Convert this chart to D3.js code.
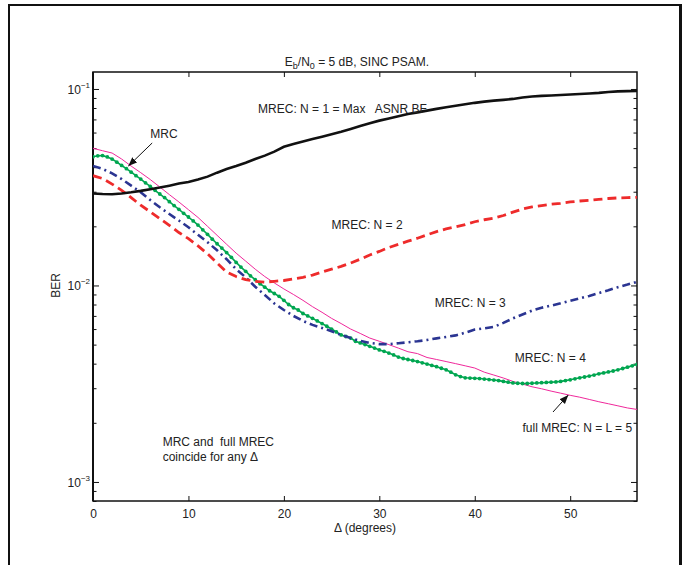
<!DOCTYPE html>
<html>
<head>
<meta charset="utf-8">
<script src="https://cdn.jsdelivr.net/npm/d3@7"></script>
<style>
  html, body { margin: 0; padding: 0; background: #fff; }
  svg { display: block; font-family: "Liberation Sans", Arial, Helvetica, sans-serif; }
  .note { white-space: pre; }
</style>
</head>
<body>
<svg id="chart" width="688" height="565"></svg>
<script>
// Data
const deltaDeg = d3.range(0, 58, 1);          // 0..57 degrees, 1 deg step
const deltaFine = d3.range(0, 57.01, 0.5);    // 0..57 degrees, 0.5 deg step (N = 4 markers)

const berN1 = [0.0294, 0.0292, 0.0291, 0.0294, 0.0298, 0.0303, 0.0309, 0.0315, 0.0322, 0.0330,
  0.0336, 0.0346, 0.0358, 0.0375, 0.0391, 0.0405, 0.0421, 0.0440, 0.0458, 0.0480,
  0.0508, 0.0525, 0.0540, 0.0556, 0.0572, 0.0589, 0.0606, 0.0626, 0.0648, 0.0670,
  0.0690, 0.0708, 0.0727, 0.0745, 0.0760, 0.0776, 0.0792, 0.0808, 0.0822, 0.0836,
  0.0850, 0.0862, 0.0872, 0.0880, 0.0890, 0.0905, 0.0915, 0.0922, 0.0927, 0.0932,
  0.0937, 0.0942, 0.0948, 0.0955, 0.0965, 0.0972, 0.0975, 0.0977];

const berN2 = [0.0362, 0.0350, 0.0328, 0.0305, 0.0280, 0.0256, 0.0237, 0.0219, 0.0202, 0.0186,
  0.0173, 0.0159, 0.0145, 0.0130, 0.0117, 0.0111, 0.0107, 0.0105, 0.0104, 0.0105,
  0.0106, 0.0108, 0.0110, 0.0113, 0.0117, 0.0121, 0.0125, 0.0130, 0.0136, 0.0143,
  0.0149, 0.0156, 0.0162, 0.0168, 0.0174, 0.0181, 0.0188, 0.0194, 0.0199, 0.0204,
  0.0211, 0.0216, 0.0220, 0.0227, 0.0236, 0.0245, 0.0251, 0.0255, 0.0259, 0.0262,
  0.0266, 0.0269, 0.0271, 0.0274, 0.0277, 0.0279, 0.0280, 0.0281];

const berN3 = [0.0406, 0.0392, 0.0372, 0.0348, 0.0322, 0.0298, 0.0272, 0.0250, 0.0231, 0.0214,
  0.0198, 0.0181, 0.0166, 0.0151, 0.0136, 0.0121, 0.0110, 0.00985, 0.00895, 0.00810,
  0.00750, 0.00700, 0.00660, 0.00630, 0.00608, 0.00585, 0.00560, 0.00540, 0.00522, 0.00510,
  0.00503, 0.00503, 0.00508, 0.00514, 0.00520, 0.00528, 0.00538, 0.00547, 0.00557, 0.00575,
  0.00596, 0.00605, 0.00616, 0.00645, 0.00680, 0.00712, 0.00745, 0.00770, 0.00790, 0.00811,
  0.00835, 0.00860, 0.00885, 0.00915, 0.00945, 0.00980, 0.0101, 0.01044];

const berN4 = [0.0452, 0.0457, 0.0458, 0.0451, 0.0440, 0.0424, 0.0408, 0.0393, 0.0377, 0.0362,
  0.0348, 0.0333, 0.0319, 0.0305, 0.0292, 0.0280, 0.0267, 0.0255, 0.0244, 0.0233,
  0.0223, 0.0213, 0.0203, 0.0192, 0.0182, 0.0172, 0.0163, 0.0155, 0.0147, 0.0139,
  0.0131, 0.0124, 0.0118, 0.0112, 0.0107, 0.0102, 0.0098, 0.0094, 0.0091, 0.0088,
  0.0084, 0.0080, 0.0077, 0.0075, 0.0072, 0.0070, 0.0068, 0.0066, 0.0064, 0.0062,
  0.0060, 0.0058, 0.0056, 0.0055, 0.0054, 0.0052, 0.0051, 0.0050, 0.0049, 0.0048,
  0.0047, 0.00462, 0.00453, 0.00443, 0.00432, 0.00425, 0.00420, 0.00415, 0.00410, 0.00404,
  0.00398, 0.00392, 0.00386, 0.00379, 0.00372, 0.00362, 0.00351, 0.00344, 0.00339, 0.00338,
  0.00337, 0.00336, 0.00334, 0.00332, 0.00330, 0.00328, 0.00325, 0.00322, 0.00319, 0.00318,
  0.00317, 0.00317, 0.00318, 0.00319, 0.00320, 0.00321, 0.00322, 0.00323, 0.00325, 0.00328,
  0.00331, 0.00335, 0.00339, 0.00342, 0.00346, 0.00350, 0.00355, 0.00359, 0.00363, 0.00367,
  0.00372, 0.00378, 0.00384, 0.00390, 0.00396];

// full MREC (N = L = 5) == MRC
const berFull = [0.0499, 0.0485, 0.0472, 0.0440, 0.0405, 0.0375, 0.0346, 0.0317, 0.0290, 0.0266,
  0.0243, 0.0222, 0.0200, 0.0180, 0.0162, 0.0146, 0.0133, 0.0121, 0.0111, 0.0103,
  0.0096, 0.0090, 0.0084, 0.0078, 0.0073, 0.0068, 0.0064, 0.0060, 0.0057, 0.0054,
  0.0052, 0.0050, 0.0048, 0.0046, 0.0045, 0.0043, 0.0042, 0.0041, 0.0040, 0.0039,
  0.0038, 0.00362, 0.00350, 0.00338, 0.00325, 0.00315, 0.00305, 0.00298, 0.00290, 0.00283,
  0.00276, 0.00270, 0.00263, 0.00256, 0.00250, 0.00244, 0.00238, 0.00234];

const xTicks = [0, 10, 20, 30, 40, 50];
const yMajor = [1e-3, 1e-2, 1e-1];
const yMajorExp = ["\u22123", "\u22122", "\u22121"];

// Layout
const plot = { left: 93, right: 637, top: 72, bottom: 501 };
const svg = d3.select("#chart");

const x = d3.scaleLinear().domain([0, 57]).range([plot.left, plot.right]);
const y = d3.scaleLog().domain([0.0008, 0.122]).range([plot.bottom, plot.top]);

// minor log ticks inside the domain
const yMinor = [];
[1e-4, 1e-3, 1e-2, 1e-1].forEach(p => {
    for (let k = 2; k <= 9; k++) {
        const v = k * p;
        if (v >= y.domain()[0] && v <= y.domain()[1]) yMinor.push(v);
    }
});

// Outer figure frame
svg.append("line").attr("x1", 9).attr("y1", 5).attr("x2", 9).attr("y2", 565)
    .attr("stroke", "#111").attr("stroke-width", 2);
svg.append("line").attr("x1", 8).attr("y1", 5).attr("x2", 681).attr("y2", 5)
    .attr("stroke", "#111").attr("stroke-width", 2);
svg.append("line").attr("x1", 680.5).attr("y1", 4).attr("x2", 680.5).attr("y2", 565)
    .attr("stroke", "#111").attr("stroke-width", 3);

// Axes (ticks pointing inward on all four sides)
function tidy(g) {
    g.select(".domain").remove();
    g.selectAll(".tick line").attr("stroke", "#111").attr("stroke-width", 1);
    g.selectAll(".tick text").attr("fill", "#222").attr("font-size", 12);
}

svg.append("g").attr("transform", `translate(0,${plot.bottom})`)
    .call(d3.axisBottom(x).tickValues(xTicks).tickSizeInner(-5).tickSizeOuter(0).tickPadding(8))
    .call(tidy)
    .call(g => g.selectAll(".tick text").attr("font-family", null));
svg.append("g").attr("transform", `translate(0,${plot.top})`)
    .call(d3.axisTop(x).tickValues(xTicks).tickSize(-5).tickFormat(""))
    .call(tidy);

svg.append("g").attr("transform", `translate(${plot.left},0)`)
    .call(d3.axisLeft(y).tickValues(yMajor).tickSize(-6).tickFormat(""))
    .call(tidy);
svg.append("g").attr("transform", `translate(${plot.left},0)`)
    .call(d3.axisLeft(y).tickValues(yMinor).tickSize(-3.5).tickFormat(""))
    .call(tidy);
svg.append("g").attr("transform", `translate(${plot.right},0)`)
    .call(d3.axisRight(y).tickValues(yMajor).tickSize(-6).tickFormat(""))
    .call(tidy);
svg.append("g").attr("transform", `translate(${plot.right},0)`)
    .call(d3.axisRight(y).tickValues(yMinor).tickSize(-3.5).tickFormat(""))
    .call(tidy);

// y tick labels 10^-n
const yl = svg.append("g").attr("fill", "#222");
yMajor.forEach((v, i) => {
    const t = yl.append("text").attr("x", plot.left - 3).attr("y", y(v) + 5)
        .attr("text-anchor", "end").attr("font-size", 12);
    t.append("tspan").text("10");
    t.append("tspan").attr("dy", -6).attr("font-size", 8).text(yMajorExp[i]);
});

// box
svg.append("rect")
    .attr("x", plot.left).attr("y", plot.top)
    .attr("width", plot.right - plot.left).attr("height", plot.bottom - plot.top)
    .attr("fill", "none").attr("stroke", "#111").attr("stroke-width", 1.5);
svg.append("line").attr("x1", plot.left).attr("x2", plot.left)
    .attr("y1", plot.top).attr("y2", plot.bottom)
    .attr("stroke", "#111").attr("stroke-width", 2);

// Curves
const defs = svg.append("defs");
defs.append("clipPath").attr("id", "clip")
    .append("rect").attr("x", plot.left).attr("y", plot.top)
    .attr("width", plot.right - plot.left).attr("height", plot.bottom - plot.top);
const curves = svg.append("g").attr("clip-path", "url(#clip)");

const line = d3.line().x(d => x(d[0])).y(d => y(d[1]));
const zipD = vals => deltaDeg.map((d, i) => [d, vals[i]]);
const zipF = vals => deltaFine.map((d, i) => [d, vals[i]]);

curves.append("path").datum(zipD(berFull)).attr("d", line)
    .attr("fill", "none").attr("stroke", "#f0289b").attr("stroke-width", 1);

curves.append("path").datum(zipF(berN4)).attr("d", line)
    .attr("fill", "none").attr("stroke", "#00a650").attr("stroke-width", 1.6);
curves.append("g").selectAll("circle").data(zipF(berN4)).join("circle")
    .attr("cx", d => x(d[0])).attr("cy", d => y(d[1])).attr("r", 1.9)
    .attr("fill", "#00a650");

curves.append("path").datum(zipD(berN3)).attr("d", line)
    .attr("fill", "none").attr("stroke", "#2b3592").attr("stroke-width", 2.6)
    .attr("stroke-dasharray", "8,4,2,4");

curves.append("path").datum(zipD(berN2)).attr("d", line)
    .attr("fill", "none").attr("stroke", "#ee2b2b").attr("stroke-width", 2.8)
    .attr("stroke-dasharray", "9,5");

curves.append("path").datum(zipD(berN1)).attr("d", line)
    .attr("fill", "none").attr("stroke", "#111").attr("stroke-width", 2.6);

// Titles
const title = svg.append("text").attr("x", (plot.left + plot.right) / 2 - 8).attr("y", 66)
    .attr("text-anchor", "middle").attr("font-size", 12).attr("fill", "#222");
title.append("tspan").text("E");
title.append("tspan").attr("dy", 3).attr("font-size", 9).text("b");
title.append("tspan").attr("dy", -3).text("/N");
title.append("tspan").attr("dy", 3).attr("font-size", 9).text("0");
title.append("tspan").attr("dy", -3).text(" = 5 dB, SINC PSAM.");

svg.append("text").attr("x", (plot.left + plot.right) / 2).attr("y", 532)
    .attr("text-anchor", "middle").attr("font-size", 12).attr("fill", "#222")
    .text("\u0394 (degrees)");

svg.append("text").attr("transform", `translate(60,${y(0.01)}) rotate(-90)`)
    .attr("text-anchor", "middle").attr("font-size", 12).attr("fill", "#222")
    .text("BER");

// Annotations (positioned in data units)
const notes = [
    { t: "MREC: N = 1 = Max   ASNR BF", d: 17.3, v: 0.0755 },
    { t: "MRC", d: 6.0, v: 0.0563 },
    { t: "MREC: N = 2", d: 25.0, v: 0.0194 },
    { t: "MREC: N = 3", d: 35.8, v: 0.0078 },
    { t: "MREC: N = 4", d: 44.2, v: 0.0041 },
    { t: "full MREC: N = L = 5", d: 45.0, v: 0.00180 },
    { t: "MRC and  full MREC", d: 7.3, v: 0.00152 },
    { t: "coincide for any \u0394", d: 7.3, v: 0.00128 }
];
svg.append("g").selectAll("text").data(notes).join("text")
    .attr("class", "note")
    .attr("x", d => x(d.d)).attr("y", d => y(d.v))
    .attr("font-size", 12).attr("fill", "#222")
    .text(d => d.t);

// Arrows
defs.append("marker").attr("id", "head").attr("viewBox", "0 0 10 10")
    .attr("refX", 10).attr("refY", 5).attr("markerWidth", 9).attr("markerHeight", 9)
    .attr("markerUnits", "userSpaceOnUse").attr("orient", "auto")
    .append("path").attr("d", "M0,1 L10,5 L0,9 Z").attr("fill", "#111");

const arrows = [
    { from: [6.2, 0.0531], to: [3.7, 0.0405] },
    { from: [48.2, 0.00227], to: [49.8, 0.00277] }
];
arrows.forEach(a => {
    svg.append("line")
        .attr("x1", x(a.from[0])).attr("y1", y(a.from[1]))
        .attr("x2", x(a.to[0])).attr("y2", y(a.to[1]))
        .attr("stroke", "#111").attr("stroke-width", 1)
        .attr("marker-end", "url(#head)");
});
</script>
</body>
</html>
